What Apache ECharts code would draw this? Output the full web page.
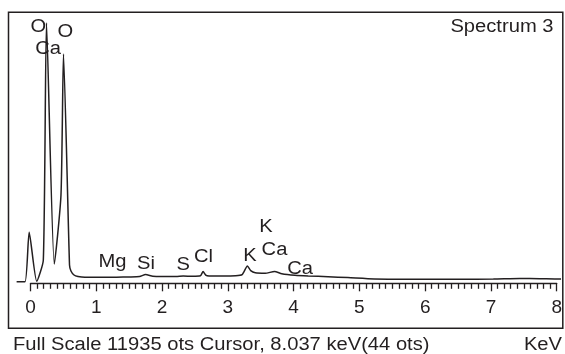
<!DOCTYPE html>
<html>
<head>
<meta charset="utf-8">
<script src="https://cdn.jsdelivr.net/npm/echarts@6/dist/echarts.min.js"></script>
<style>html,body{margin:0;padding:0;background:#fff}#c{width:565px;height:354px}</style>
</head>
<body>
<div id="c"></div>
<script>
// ---- data (keV vs counts) ----
const energyKeV = [-0.21, -0.083, -0.02, 0.094, 0.194, 0.242, 0.36, 0.461, 0.499, 0.59, 0.612, 0.658, 0.718, 0.824,
  1.05, 1.3, 1.5, 1.65, 1.74, 1.85, 2.0, 2.2, 2.31, 2.45, 2.57, 2.61, 2.65, 2.7, 2.9, 3.1, 3.2, 3.28, 3.33, 3.4,
  3.55, 3.69, 3.8, 4.0, 4.2, 4.5, 4.8, 5.2, 5.6, 6.0, 6.5, 7.0, 7.4, 7.7, 8.0, 8.06];
const counts = [70, 70, 2243, 88, 1025, 11451, 849, 3884, 10087, 805, 541, 365, 299, 264,
  264, 270, 280, 300, 387, 310, 300, 300, 320, 310, 330, 519, 360, 320, 320, 330, 380, 760, 560, 460,
  440, 519, 420, 350, 320, 290, 250, 190, 180, 175, 178, 185, 215, 205, 190, 190];

// element peak labels
const labelNames  = ['O', 'Ca', 'O', 'Mg', 'Si', 'S', 'Cl', 'K', 'K', 'Ca', 'Ca'];
const labelKeV    = [0.118, 0.265, 0.526, 1.24, 1.747, 2.311, 2.616, 3.319, 3.561, 3.69, 4.076];
const labelCounts = [11275, 10320, 11046, 915, 858, 818, 1170, 1201, 2477, 1465, 638];

const xTickValues = [0, 1, 2, 3, 4, 5, 6, 7, 8];
const fullScale = 11935;
const spectrumTitle = 'Spectrum 3';
const footerText = 'Full Scale 11935 ots Cursor, 8.037 keV(44 ots)';
const unitText = 'KeV';

const INK = '#231f20';
const FONT = '"Liberation Sans", Arial, sans-serif';
const SX = 1.12;

const chart = echarts.init(document.getElementById('c'), null, {renderer: 'canvas'});

function txt(text, x, y, align) {
  return {
    type: 'text', x: x, y: y, scaleX: SX, z: 100,
    style: {
      text: text, fontSize: 18, fontFamily: FONT, fill: INK,
      align: align, textAlign: align, verticalAlign: 'middle', textVerticalAlign: 'middle'
    }
  };
}

const option = {
  animation: false,
  backgroundColor: '#fff',
  grid: [
    {left: 30.5, right: 5.5, top: 12, bottom: 70.7},
    {left: 30.5 - 0.21 * 66.125, right: 5.5, top: 12, bottom: 70.7}
  ],
  xAxis: [
    {
      type: 'value', gridIndex: 0, min: xTickValues[0], max: xTickValues[xTickValues.length - 1], interval: 1,
      axisLine: {show: true, onZero: false, lineStyle: {color: INK, width: 1.3}},
      axisTick: {show: true, inside: false, length: 8, lineStyle: {color: INK, width: 1.3}},
      minorTick: {show: true, splitNumber: 10, length: 5.5, lineStyle: {color: INK, width: 1.3}},
      axisLabel: {show: true, margin: 15, fontSize: 19, fontFamily: FONT, color: INK},
      splitLine: {show: false}
    },
    {
      type: 'value', gridIndex: 1, min: -0.21, max: 8, show: false
    }
  ],
  yAxis: [
    {type: 'value', gridIndex: 0, min: 0, max: fullScale, show: false},
    {type: 'value', gridIndex: 1, min: 0, max: fullScale, show: false}
  ],
  series: [
    {
      type: 'line', xAxisIndex: 1, yAxisIndex: 1,
      data: energyKeV.map((e, i) => [e, counts[i]]),
      showSymbol: false, smooth: 0.2, clip: false,
      lineStyle: {color: INK, width: 1.5}
    },
    {
      type: 'custom', xAxisIndex: 1, yAxisIndex: 1, clip: false, z: 10,
      data: labelKeV.map((e, i) => [e, labelCounts[i]]),
      renderItem: function (params, api) {
        const p = api.coord([api.value(0), api.value(1)]);
        return {
          type: 'text', x: p[0], y: p[1], scaleX: SX,
          style: {
            text: labelNames[params.dataIndex], fontSize: 18, fontFamily: FONT, fill: INK,
            align: 'center', textAlign: 'center', verticalAlign: 'middle', textVerticalAlign: 'middle'
          }
        };
      }
    }
  ],
  graphic: [
    {
      type: 'rect', z: 50,
      shape: {x: 8.5, y: 12.3, width: 554.3, height: 316},
      style: {fill: 'none', stroke: INK, lineWidth: 1.5}
    },
    txt(spectrumTitle, 553.5, 27.5, 'right'),
    txt(footerText, 13, 345, 'left'),
    txt(unitText, 562, 345, 'right')
  ]
};
chart.setOption(option);
</script>
</body>
</html>
